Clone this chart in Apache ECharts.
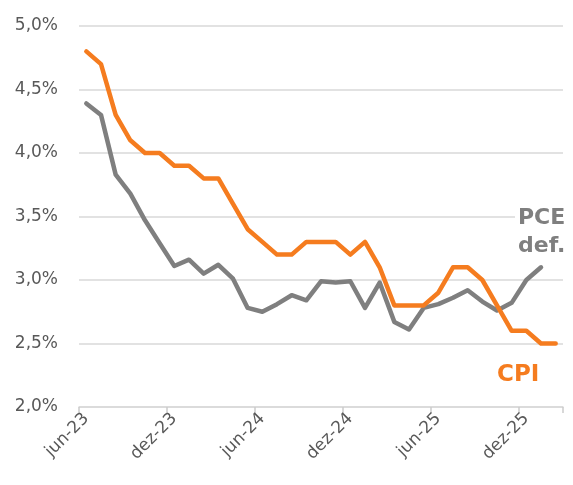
<!DOCTYPE html>
<html>
<head>
<meta charset="utf-8">
<script src="https://cdn.jsdelivr.net/npm/echarts@6/dist/echarts.min.js"></script>
<style>
html,body{margin:0;padding:0;background:#fff;}
#chart{width:573px;height:485px;}
</style>
</head>
<body>
<div id="chart"></div>
<script>
const months = ['jun-23','jul-23','ago-23','set-23','out-23','nov-23','dez-23',
  'jan-24','fev-24','mar-24','abr-24','mai-24','jun-24','jul-24','ago-24','set-24','out-24','nov-24','dez-24',
  'jan-25','fev-25','mar-25','abr-25','mai-25','jun-25','jul-25','ago-25','set-25','out-25','nov-25','dez-25',
  'jan-26','fev-26'];
const cpi = [4.8,4.7,4.3,4.1,4.0,4.0,3.9,3.9,3.8,3.8,3.6,3.4,3.3,3.2,3.2,3.3,3.3,3.3,3.2,3.3,3.1,2.8,2.8,2.8,2.9,3.1,3.1,3.0,2.8,2.6,2.6,2.5,2.5];
const pce = [4.39,4.30,3.83,3.68,3.47,3.29,3.11,3.16,3.05,3.12,3.01,2.78,2.75,2.81,2.88,2.84,2.99,2.98,2.99,2.78,2.98,2.67,2.61,2.78,2.81,2.86,2.92,2.83,2.76,2.82,3.00,3.10,null];
const yTicks = {min:2.0, max:5.0, step:0.5};

const FONT = 'DejaVu Sans';
const chart = echarts.init(document.getElementById('chart'), null, {renderer:'canvas'});
chart.setOption({
  animation:false,
  backgroundColor:'#ffffff',
  grid:{left:79, right:10, top:26, bottom:78},
  xAxis:{
    type:'category',
    data:months,
    boundaryGap:true,
    axisLine:{lineStyle:{color:'#d9d9d9', width:1.5}},
    axisTick:{show:true, interval:(i)=>i % 6 === 0 && i < months.length, length:6, lineStyle:{color:'#cccccc', width:1.5}},
    axisLabel:{interval:5, rotate:45, fontFamily:FONT, fontSize:17, color:'#595959', margin:9}
  },
  yAxis:{
    type:'value',
    min:yTicks.min, max:yTicks.max, interval:yTicks.step,
    axisLine:{show:false}, axisTick:{show:false},
    splitLine:{lineStyle:{color:'#d9d9d9', width:1.5}},
    axisLabel:{fontFamily:FONT, fontSize:17, color:'#595959', margin:21,
      formatter:v=>v.toFixed(1).replace('.',',')+'%'}
  },
  series:[
    {name:'PCE def.', type:'line', data:pce, symbol:'none', z:2,
      lineStyle:{color:'#7f7f7f', width:4.5, join:'round', cap:'round'}},
    {name:'CPI', type:'line', data:cpi, symbol:'none', z:3,
      lineStyle:{color:'#f57c1f', width:4.5, join:'round', cap:'round'}}
  ],
  graphic:[
    {type:'text', left:515, top:204, z:10, style:{text:'PCE\ndef.', font:'bold 22px "DejaVu Sans"', fill:'#7f7f7f', lineHeight:28, backgroundColor:'#ffffff', padding:[0,2,0,3]}},
    {type:'text', left:497, top:364, style:{text:'CPI', font:'bold 23px "DejaVu Sans"', fill:'#f57c1f'}}
  ]
});
</script>
</body>
</html>
